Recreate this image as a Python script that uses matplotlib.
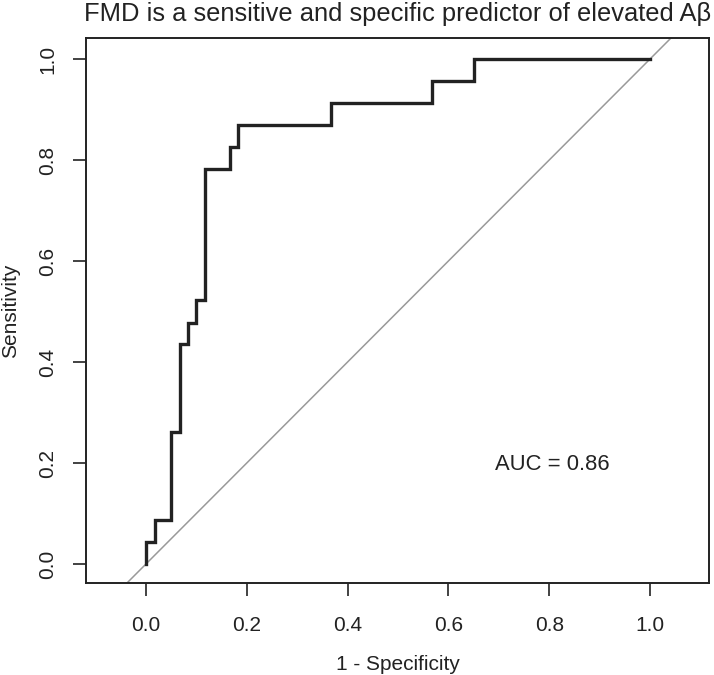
import numpy as np
import matplotlib
matplotlib.use("Agg")
import matplotlib.pyplot as plt

# ROC curve (1 - specificity, sensitivity)
fpr = [0.0, 0.0, 0.017, 0.017, 0.05, 0.05, 0.067, 0.067, 0.083, 0.083,
       0.1, 0.1, 0.117, 0.117, 0.167, 0.167, 0.183, 0.183, 0.367, 0.367,
       0.567, 0.567, 0.65, 0.65, 1.0]
tpr = [0.0, 0.043, 0.043, 0.087, 0.087, 0.261, 0.261, 0.435, 0.435, 0.478,
       0.478, 0.522, 0.522, 0.783, 0.783, 0.826, 0.826, 0.870, 0.870, 0.913,
       0.913, 0.957, 0.957, 1.0, 1.0]
auc = 0.86
ticks = [0.0, 0.2, 0.4, 0.6, 0.8, 1.0]
tick_labels = ["0.0", "0.2", "0.4", "0.6", "0.8", "1.0"]

plt.rcParams["font.family"] = ["Liberation Sans", "DejaVu Sans"]
ink = "#222222"

fig = plt.figure(figsize=(7.14, 6.75), dpi=100)
ax = fig.add_axes([0.1204, 0.1363, 0.8726, 0.8074])

ax.axline((0, 0), slope=1, color="#999999", lw=1.1, zorder=1)
ax.plot(fpr, tpr, color=ink, lw=2.4, solid_joinstyle="miter", zorder=2)

ax.text(0.692, 0.197, f"AUC = {auc:.2f}", ha="left", va="center",
        fontsize=15.8, color=ink)

ax.set_xlim(-0.119, 1.117)
ax.set_ylim(-0.0376, 1.0416)
ax.set_xticks(ticks)
ax.set_xticklabels(tick_labels)
ax.set_yticks(ticks)
ax.set_yticklabels(tick_labels, rotation=90, va="center")
ax.tick_params(direction="out", length=9.5, width=1.2, labelsize=15,
               colors=ink)
ax.tick_params(axis="x", pad=14)
ax.tick_params(axis="y", pad=11)
for s in ax.spines.values():
    s.set_linewidth(1.4)
    s.set_color(ink)

ax.set_xlabel("1 - Specificity", fontsize=15, color=ink, labelpad=15)
ax.set_ylabel("Sensitivity", fontsize=15, color=ink, labelpad=13.5)
ax.set_title("FMD is a sensitive and specific predictor of elevated A\u03b2",
             fontsize=18.4, color=ink, pad=12)

fig.savefig("out.png", dpi=100)
